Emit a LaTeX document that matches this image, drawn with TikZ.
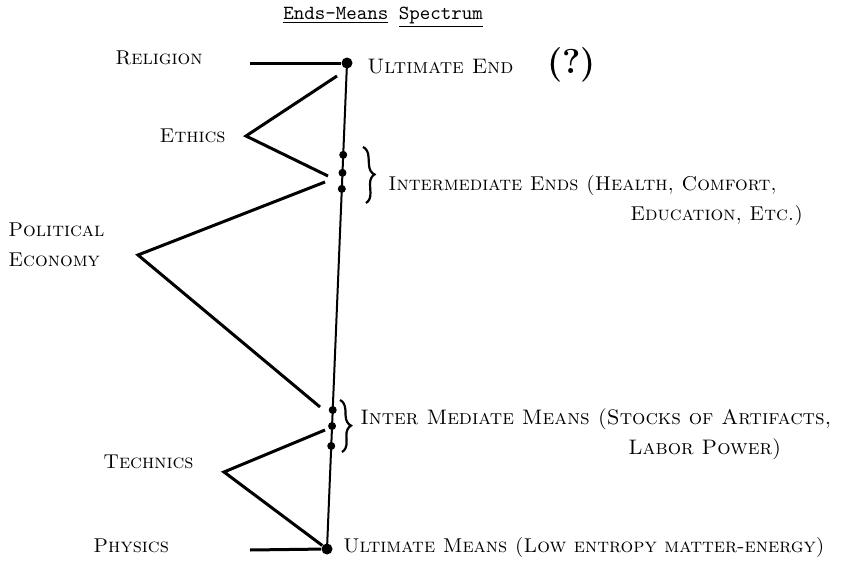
\documentclass[tikz,border=0pt]{standalone}
\usepackage{fontspec}
\usetikzlibrary{positioning,decorations.pathreplacing}

\begin{document}
\begin{tikzpicture}[x=0.5pt, y=-0.5pt, nodes = {inner sep=0pt},
    hand/.style = {font=\fontsize{10}{15}\selectfont\scshape, align=left},
    widehand/.style = {hand, font=\fontsize{10.5}{15}\selectfont\scshape},
    leg/.style = {line width=1.5pt},
    dot/.style = {circle, fill, inner sep=0pt, minimum size=4pt},
    bigdot/.style = {dot, minimum size=5.5pt},
    curly/.style = {line width=1.1pt, decorate, decoration={brace, amplitude=5pt}}]
    \useasboundingbox (0,0) rectangle (842,562);
    \node (title) at (383,17) [font=\ttfamily] {\underline{Ends-Means} \underline{Spectrum}};
    % the spine, from ultimate end down to ultimate means
    \coordinate (top) at (347,63);
    \coordinate (bot) at (327,549);
    \draw[line width=1pt] (top) -- (bot)
        coordinate[pos=0.189] (e1) coordinate[pos=0.226] (e2) coordinate[pos=0.259] (e3)
        coordinate[pos=0.714] (m1) coordinate[pos=0.747] (m2) coordinate[pos=0.788] (m3);
    \node (dot-top) [bigdot] at (top) {};
    \node (dot-bot) [bigdot] at (bot) {};
    \foreach \p in {e1,e2,e3,m1,m2,m3}
        \node (dot-\p) [dot] at (\p) {};
    % the disciplines on the left
    \coordinate (rel-a) at (250,63);
    \draw[leg] (rel-a) -- (dot-top);
    \coordinate (eth-a) at (337,76);
    \coordinate (eth-c) at (246,136);
    \coordinate (eth-b) at (328,176);
    \draw[leg] (eth-a) -- (eth-c) -- (eth-b);
    \coordinate (pol-a) at (325,182);
    \coordinate (pol-c) at (138,255);
    \coordinate (pol-b) at (320,407);
    \draw[leg] (pol-a) -- (pol-c) -- (pol-b);
    \coordinate (tec-a) at (325,430);
    \coordinate (tec-c) at (224,472);
    \draw[leg] (tec-a) -- (tec-c) -- (dot-bot);
    \coordinate (phy-a) at (250,550);
    \draw[leg] (phy-a) -- (dot-bot);
    \node (religion) [hand, anchor=west] at (115,58) {Religion};
    \node (ethics) [hand, left = 10pt of eth-c] {Ethics};
    \node (poleco) [hand, anchor=west] at (8,245) {Political\\Economy};
    \node (technics) [hand, left = 15pt of tec-c, yshift=5pt] {Technics};
    \node (physics) [hand, anchor=west] at (93,546) {Physics};
    % the spectrum on the right
    \coordinate (endsbr-t) at (363,147);
    \coordinate (endsbr-b) at (366,203);
    \draw[curly] (endsbr-t) -- (endsbr-b);
    \coordinate (meansbr-t) at (340,400);
    \coordinate (meansbr-b) at (342,452);
    \draw[curly] (meansbr-t) -- (meansbr-b);
    \node (ultend) [widehand, right = 10pt of top, yshift=-1pt]
        {Ultimate End\hspace{17pt}{\LARGE\bfseries(?)}};
    \node (intends) [hand, anchor=north west] at (388,175)
        {Intermediate Ends (Health, Comfort,\\\hspace*{121pt}Education, Etc.)};
    \node (intmeans) [widehand, anchor=north west] at (360,408)
        {Inter Mediate Means (Stocks of Artifacts,\\\hspace*{134pt}Labor Power)};
    \node (ultmeans) [hand, right = 5pt of dot-bot, yshift=1pt] {Ultimate Means (Low entropy matter-energy)};
\end{tikzpicture}
\end{document}
